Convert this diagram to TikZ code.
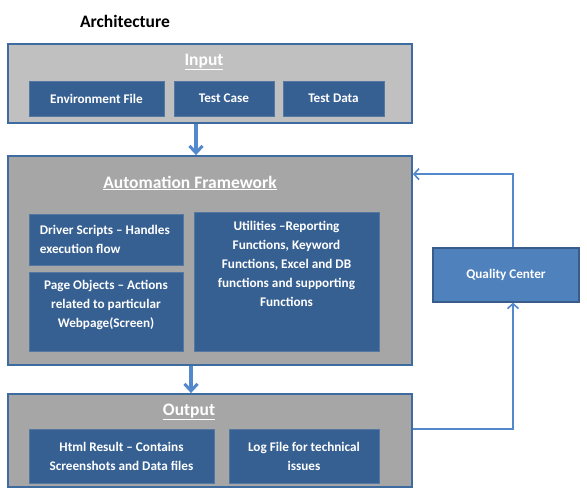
\documentclass[tikz,border=0pt]{standalone}
\usepackage{fontspec}
\setmainfont{Carlito}
\usetikzlibrary{arrows.meta}

\definecolor{itemblue}{RGB}{55,96,146}
\definecolor{frameblue}{RGB}{62,108,160}
\definecolor{lightpanel}{RGB}{192,192,192}
\definecolor{darkpanel}{RGB}{166,166,166}
\definecolor{qcblue}{RGB}{79,129,189}
\definecolor{qcedge}{RGB}{56,93,138}
\definecolor{linkblue}{RGB}{84,136,204}

\tikzset{
  panel/.style={draw=frameblue, line width=1.8pt, minimum width=404pt, inner sep=0pt},
  item/.style={fill=itemblue, draw=itemblue!85!white, line width=0.6pt, text=white,
    font=\bfseries\fontsize{13.2}{19}\selectfont, align=center, inner sep=0pt},
  itemtext/.style={text=white, font=\bfseries\fontsize{13.2}{19}\selectfont, align=center, inner sep=0pt},
  heading/.style={text=white, font=\bfseries\fontsize{17.5}{19}\selectfont, inner sep=0pt},
  flow/.style={draw=linkblue, line width=3.5pt, -{Straight Barb[length=7pt,width=13pt,line width=3pt]}},
  link/.style={draw=linkblue, line width=1.6pt, -{Straight Barb[length=5pt,width=11pt,line width=1.6pt]}}
}

\begin{document}
\begin{tikzpicture}[x=1pt, y=-1pt]
    \useasboundingbox (0,0) rectangle (587,492);

    \node[font=\bfseries\fontsize{17.5}{19}\selectfont, inner sep=0pt] (title) at (125,21) {Architecture};

    % Input
    \node[panel, fill=lightpanel, minimum height=79pt] (input) at (210,83.5) {};
    \node[heading] (inputtitle) at (204,62) {\underline{Input}};
    \node[item, minimum width=135pt, minimum height=35pt] (envfile) at (96.5,98.5) {Environment File};
    \node[item, minimum width=100pt, minimum height=35pt] (testcase) at (224,98.5) {Test Case};
    \node[item, minimum width=101pt, minimum height=35pt] (testdata) at (333.5,98.5) {Test Data};

    % Automation Framework
    \node[panel, fill=darkpanel, minimum height=209pt] (framework) at (210,260.5) {};
    \node[heading] (fwtitle) at (190,183) {\underline{Automation Framework}};
    \node[item, minimum width=154pt, minimum height=51pt] (driver) at (106,239.5) {};
    \node[itemtext, align=left, anchor=west] (drivertext) at ([xshift=11pt]driver.west)
        {Driver Scripts -- Handles\\execution flow};
    \node[item, minimum width=154pt, minimum height=79pt] (pageobj) at (106,311.5) {};
    \node[itemtext, anchor=north] (pageobjtext) at ([yshift=-8pt]pageobj.north)
        {Page Objects -- Actions\\related to particular\\Webpage(Screen)};
    \node[item, minimum width=185pt, minimum height=139pt] (utilities) at (286.5,281.5) {};
    \node[itemtext, anchor=north] (utilitiestext) at ([yshift=-9pt]utilities.north)
        {Utilities --Reporting\\Functions, Keyword\\Functions, Excel and DB\\functions and supporting\\Functions};

    % Output
    \node[panel, fill=darkpanel, minimum height=93pt] (output) at (210,440.5) {};
    \node[heading] (outtitle) at (189,412) {\underline{Output}};
    \node[item, minimum width=185pt, minimum height=54pt] (htmlres) at (121.5,456)
        {Html Result -- Contains\\Screenshots and Data files};
    \node[item, minimum width=150pt, minimum height=54pt] (logfile) at (304,456)
        {Log File for technical\\issues};

    % Quality Center
    \node[fill=qcblue, draw=qcedge, line width=1.2pt, minimum width=146pt, minimum height=54pt,
        text=white, font=\bfseries\fontsize{13.2}{19}\selectfont] (qc) at (506,275) {Quality Center};

    % Verbindungen
    \draw[flow] ([xshift=-14pt]input.south) -- ([xshift=-14pt]framework.north);
    \draw[flow] ([xshift=-19pt]framework.south) -- ([xshift=-19pt]output.north);
    \draw[link] (output.east |- logfile.north) -| ([xshift=7pt]qc.south);
    \draw[link] ([xshift=7pt]qc.north) |- ([yshift=-19pt]framework.north east);
\end{tikzpicture}
\end{document}
